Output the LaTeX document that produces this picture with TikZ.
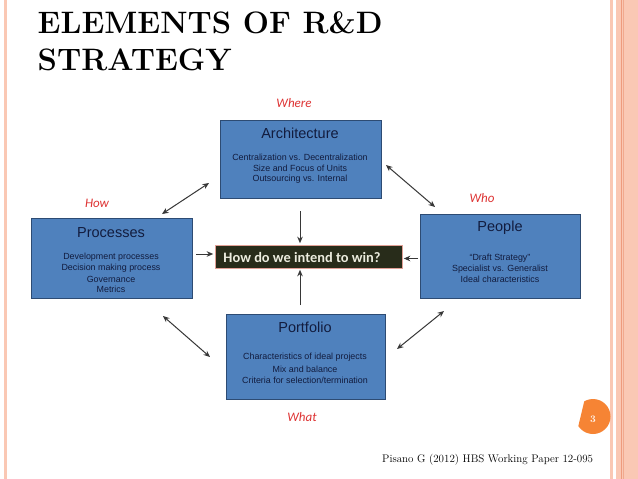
\documentclass[tikz,border=0pt]{standalone}
\usepackage{fontspec}
\newfontfamily\boxfont{Liberation Sans}
\newfontfamily\calfont{Carlito}
\usetikzlibrary{arrows.meta}
\definecolor{salmon}{RGB}{250,200,180}
\definecolor{salmondark}{RGB}{238,155,125}
\definecolor{boxblue}{RGB}{79,129,189}
\definecolor{boxedge}{RGB}{45,75,115}
\definecolor{navytext}{RGB}{18,28,62}
\definecolor{labred}{RGB}{222,52,52}
\definecolor{darkolive}{RGB}{40,44,26}
\definecolor{pinkedge}{RGB}{225,160,150}
\definecolor{arrowgray}{RGB}{55,55,55}
\definecolor{pageorange}{RGB}{246,132,52}
\tikzset{
  bluebox/.style={draw=boxedge, line width=0.9pt, fill=boxblue, inner sep=0pt},
  boxtitle/.style={font=\boxfont\fontsize{14.5}{16}\selectfont, text=navytext, inner sep=0pt, anchor=center},
  boxline/.style={font=\boxfont\fontsize{8.9}{10}\selectfont, text=navytext, inner sep=0pt, anchor=center},
  qlabel/.style={font=\calfont\itshape\fontsize{13}{15}\selectfont, text=labred, inner sep=0pt, anchor=center},
  conn/.style={draw=arrowgray, line width=1pt, -{Stealth[length=6.5pt,width=5.5pt]}},
  dconn/.style={draw=arrowgray, line width=1pt, {Stealth[length=6.5pt,width=5.5pt]}-{Stealth[length=6.5pt,width=5.5pt]}}
}
\begin{document}
\begin{tikzpicture}[x=1pt,y=-1pt]
\useasboundingbox (0,0) rectangle (638,479);
\fill[white] (0,0) rectangle (638,479);
% borders
\fill[salmon] (3.5,0) rectangle (6.5,479);
\fill[salmon] (610,0) rectangle (612.7,479);
\fill[salmon] (616,0) rectangle (638,479);
\fill[salmondark] (621.3,0) rectangle (622.3,479);
\fill[salmondark!70!salmon] (623.3,0) rectangle (623.9,479);
% title
\node[anchor=base west, inner sep=0pt, font=\fontsize{31}{36}\selectfont\bfseries] (t1) at (37.5,33) {ELEMENTS OF R\&D};
\node[anchor=base west, inner sep=0pt, font=\fontsize{31}{36}\selectfont\bfseries] (t2) at (37.5,70.5) {STRATEGY};
% boxes
\node[bluebox, minimum width=161pt, minimum height=78pt] (arch) at (300.5,159) {};
\node[bluebox, minimum width=161pt, minimum height=80pt] (proc) at (111.5,258) {};
\node[bluebox, minimum width=160pt, minimum height=84pt] (peop) at (500,256) {};
\node[bluebox, minimum width=159pt, minimum height=85pt] (port) at (305.5,356.5) {};
% box texts
\node[boxtitle] (archT) at (300,133) {Architecture};
\node[boxline] (archA) at (300,157) {Centralization vs. Decentralization};
\node[boxline] (archB) at (300,168) {Size and Focus of Units};
\node[boxline] (archC) at (300,179) {Outsourcing vs. Internal};
\node[boxtitle] (procT) at (111,233) {Processes};
\node[boxline] (procA) at (111,257) {Development processes};
\node[boxline] (procB) at (111,268) {Decision making process};
\node[boxline] (procC) at (111,279) {Governance};
\node[boxline] (procD) at (111,289.5) {Metrics};
\node[boxtitle] (peopT) at (500,228) {People};
\node[boxline] (peopA) at (500,258) {“Draft Strategy”};
\node[boxline] (peopB) at (500,269) {Specialist vs. Generalist};
\node[boxline] (peopC) at (500,279.5) {Ideal characteristics};
\node[boxtitle] (portT) at (305,327) {Portfolio};
\node[boxline] (portA) at (305,357) {Characteristics of ideal projects};
\node[boxline] (portB) at (305,369) {Mix and balance};
\node[boxline] (portC) at (305,380) {Criteria for selection/termination};
% central box
\node[draw=pinkedge, line width=0.6pt, fill=darkolive, minimum width=187pt, minimum height=23pt, inner sep=0pt] (win) at (308.5,256.5) {};
\node[font=\calfont\bfseries\fontsize{14.4}{16}\selectfont, text={rgb,255:red,236;green,236;blue,222}, inner sep=0pt, anchor=center] (winT) at (302,257) {How do we intend to win?};
% labels
\node[qlabel] (where) at (294,103) {Where};
\node[qlabel] (how) at (97,203) {How};
\node[qlabel] (who) at (482,198) {Who};
\node[qlabel] (what) at (302,417) {What};
% connector end points
\coordinate (aTop) at (300,211);
\coordinate (bBot) at (300,305);
\coordinate (pLeft) at (196,254);
\coordinate (qRight) at (418,258.5);
\coordinate (d1a) at (209,183);
\coordinate (d1b) at (162,214);
\coordinate (d2a) at (386,165);
\coordinate (d2b) at (435,207);
\coordinate (d3a) at (163,316);
\coordinate (d3b) at (210,357);
\coordinate (d4a) at (444,311);
\coordinate (d4b) at (397,349);
\draw[conn] (aTop) -- ([yshift=1.5pt]aTop |- win.north);
\draw[conn] (bBot) -- ([yshift=-1.5pt]bBot |- win.south);
\draw[conn] (pLeft) -- ([xshift=-1.5pt]win.west |- pLeft);
\draw[conn] (qRight) -- ([xshift=1.5pt]win.east |- qRight);
\draw[dconn] (d1a) -- (d1b);
\draw[dconn] (d2a) -- (d2b);
\draw[dconn] (d3a) -- (d3b);
\draw[dconn] (d4a) -- (d4b);
% page number
\begin{scope}
\clip (586,394) -- (640,394) -- (640,440) -- (575,440) -- cycle;
\fill[pageorange] (593,416.5) circle (17.5);
\end{scope}
\node[font=\fontsize{10}{12}\selectfont\bfseries, text=white!90!pageorange, inner sep=0pt] (pg) at (593,419) {3};
% footnote
\node[anchor=base west, inner sep=0pt, font=\fontsize{11}{13}\selectfont] (foot) at (382,462) {Pisano G (2012) HBS Working Paper 12-095};
\end{tikzpicture}
\end{document}
